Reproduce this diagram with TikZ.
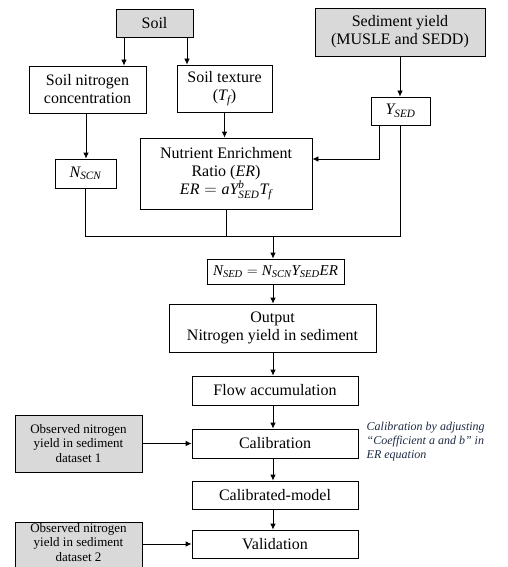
\documentclass[tikz,border=0pt]{standalone}
\usepackage{amsmath}
\usepackage{fontspec}
\setmainfont{Liberation Serif}
\usetikzlibrary{arrows.meta}
\newcommand{\vv}[1]{\text{\itshape #1}}
\definecolor{boxgrey}{HTML}{D9D9D9}
\definecolor{notecol}{HTML}{1F2A44}
\begin{document}
\begin{tikzpicture}[x=1pt,y=-1pt,
  box/.style={draw, line width=0.8pt, inner sep=0pt, align=center,
    font=\fontsize{16}{18}\selectfont},
  greybox/.style={box, fill=boxgrey},
  obsbox/.style={draw, line width=0.8pt, fill=boxgrey, inner sep=0pt,
    minimum width=127pt},
  obstext/.style={inner sep=0pt, align=center, font=\fontsize{13}{14.5}\selectfont},
  conn/.style={line width=0.8pt},
  arr/.style={conn, -{Latex[length=6pt,width=5.5pt]}},
  note/.style={inner sep=0pt, align=left, text=notecol,
    font=\fontsize{12}{14}\selectfont\itshape}
]
\useasboundingbox (0,0) rectangle (507,567);
\fill[white] (0,0) rectangle (507,567);

% nodes
\node[greybox, minimum width=77pt, minimum height=28pt] (soil) at (154.5,23) {Soil};
\node[greybox, minimum width=170pt, minimum height=48pt] (sed) at (400,32) {Sediment yield\\(MUSLE and SEDD)};
\node[box, minimum width=117pt, minimum height=47pt] (snc) at (87.5,89.5) {Soil nitrogen\\concentration};
\node[box, minimum width=95pt, minimum height=47pt] (tex) at (224.5,88.5) {Soil texture\\($\vv{T}_{\vv{f}}$)};
\node[box, minimum width=59pt, minimum height=28pt] (ysed) at (400.5,111) {$\vv{Y}_{\vv{SED}}$};
\node[box, minimum width=172pt, minimum height=71pt] (er) at (226,173.5) {Nutrient Enrichment\\Ratio (\textit{ER})\\$\vv{ER} = \vv{a}\vv{Y}^{\vv{b}}_{\vv{SED}}\vv{T}_{\vv{f}}$};
\node[box, minimum width=61pt, minimum height=29pt] (nscn) at (85.5,173.5) {$\vv{N}_{\vv{SCN}}$};
\node[box, minimum width=137pt, minimum height=25pt] (nsed) at (275.5,271.5) {\fontsize{15}{18}\selectfont$\vv{N}_{\vv{SED}} = \vv{N}_{\vv{SCN}}\vv{Y}_{\vv{SED}}\vv{ER}$};
\node[box, minimum width=207pt, minimum height=48pt] (out) at (272.5,328) {Output\\Nitrogen yield in sediment};
\node[box, minimum width=166pt, minimum height=29pt] (flow) at (275,390.5) {Flow accumulation};
\node[box, minimum width=166pt, minimum height=29pt] (cal) at (275,443.5) {Calibration};
\node[box, minimum width=166pt, minimum height=28pt] (calm) at (275,495) {Calibrated-model};
\node[box, minimum width=166pt, minimum height=28pt] (val) at (275,544) {Validation};

\node[obsbox, minimum height=57pt] (obs1) at (78.5,443.5) {};
\node[obstext] (obs1t) at (obs1.center) {Observed nitrogen\\yield in sediment\\dataset 1};
\node[obsbox, minimum height=57pt, anchor=north] (obs2) at (78.5,522) {};
\node[obstext] (obs2t) at (78.5,542.5) {Observed nitrogen\\yield in sediment\\dataset 2};

\node[note, anchor=north west] (note) at (366.5,421.5) {Calibration by adjusting\\“Coefficient a and b” in\\ER equation};

% connectors
\draw[arr] ([xshift=-30.5pt]soil.south) -- ([xshift=-30.5pt]soil.south |- snc.north);
\draw[arr] ([xshift=32.5pt]soil.south) -- ([xshift=32.5pt]soil.south |- tex.north);
\draw[arr] (sed.south) -- (sed.south |- ysed.north);
\draw[arr] (tex.south) -- (tex.south |- er.north);
\draw[arr] ([xshift=-21.5pt]ysed.south) |- ([yshift=14.5pt]er.east);
\draw[arr] ([xshift=-1.5pt]snc.south) -- ([xshift=-1.5pt]snc.south |- nscn.north);

\coordinate (j) at (273,236);
\draw[conn] (nscn.south) |- (j);
\draw[conn] ([xshift=-0.5pt]ysed.south) |- (j);
\draw[conn] (er.south) -- (er.south |- j);
\draw[arr] (j) -- (j |- nsed.north);
\draw[arr] (j |- nsed.south) -- (j |- out.north);
\draw[arr] (j |- out.south) -- (j |- flow.north);
\draw[arr] (j |- flow.south) -- (j |- cal.north);
\draw[arr] (j |- cal.south) -- (j |- calm.north);
\draw[arr] (j |- calm.south) -- (j |- val.north);
\draw[arr] (obs1.east) -- (cal.west);
\draw[arr] (obs2.east |- val.west) -- (val.west);
\end{tikzpicture}
\end{document}
